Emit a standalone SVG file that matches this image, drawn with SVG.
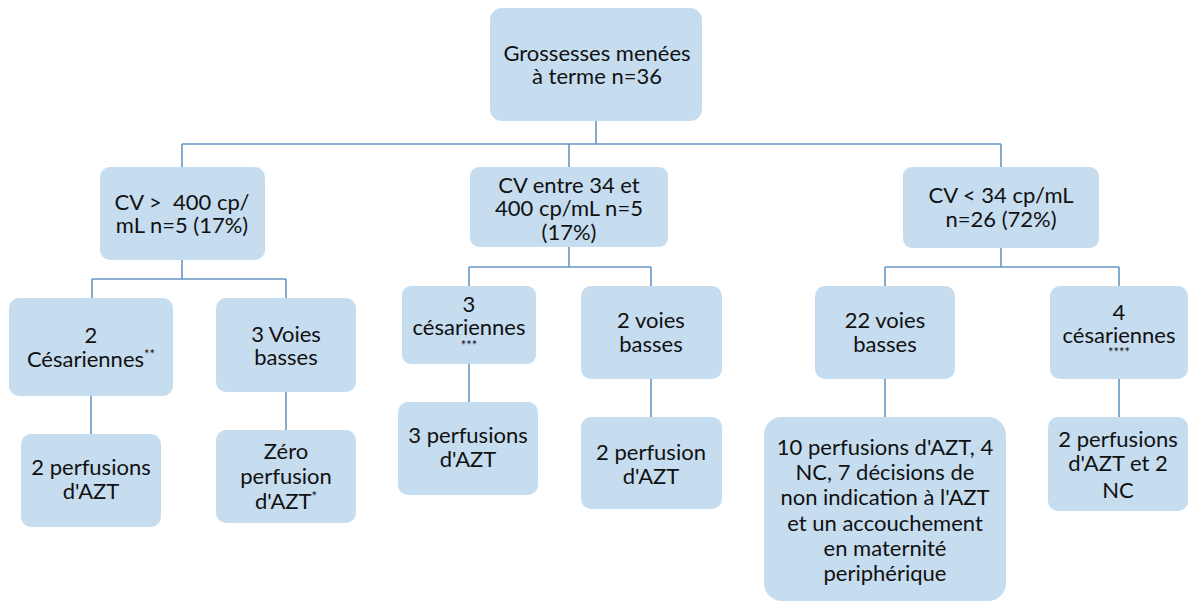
<svg xmlns="http://www.w3.org/2000/svg" width="1192" height="602" viewBox="0 0 1192 602">
<style>
.box{fill:#c6dcef;stroke:none}
.t{font-family:Lato,"Liberation Sans",sans-serif;font-size:22px;fill:#111;text-anchor:middle}
.s{font-size:13px}
.c{fill:none;stroke:#6796c4;stroke-width:1.6}
</style>
<rect width="1192" height="602" fill="#fff"/>
<g id="connectors">
<path class="c" d="M596,121V144M182,144H1001M182,144V167M569,144V167M1001,144V167"/>
<path class="c" d="M182,260V279M92,279H286M92,279V298M286,279V298M91,396V434M286,392V430"/>
<path class="c" d="M569,247V267M469,267H651M469,267V286M651,267V286M469,364V402M651,379V417"/>
<path class="c" d="M1001,248V267M885,267H1119M885,267V286M1119,267V286M885,379V417M1119,379V417"/>
</g>
<g id="root">
<rect class="box" x="490" y="8" width="212" height="113" rx="12"/>
<text class="t" x="597" y="60.5">Grossesses menées</text>
<text class="t" x="597" y="84">à terme n=36</text>
</g>
<g id="cv-high">
<rect class="box" x="100" y="167" width="165" height="93" rx="10"/>
<text class="t" x="182" y="210" style="white-space:pre">CV &gt;  400 cp/</text>
<text class="t" x="182" y="233">mL n=5 (17%)</text>
</g>
<g id="cv-mid">
<rect class="box" x="470" y="167" width="198" height="80" rx="9"/>
<text class="t" x="569" y="193">CV entre 34 et</text>
<text class="t" x="569" y="216">400 cp/mL n=5</text>
<text class="t" x="569" y="240">(17%)</text>
</g>
<g id="cv-low">
<rect class="box" x="903" y="167" width="196" height="81" rx="9"/>
<text class="t" x="1001" y="203">CV &lt; 34 cp/mL</text>
<text class="t" x="1001" y="227">n=26 (72%)</text>
</g>
<g id="a1">
<rect class="box" x="9" y="298" width="164" height="98" rx="10"/>
<text class="t" x="91" y="343">2</text>
<text class="t" x="91" y="367">Césariennes<tspan class="s" dy="-8">**</tspan></text>
</g>
<g id="a2">
<rect class="box" x="216" y="298" width="140" height="94" rx="10"/>
<text class="t" x="286" y="342">3 Voies</text>
<text class="t" x="286" y="365">basses</text>
</g>
<g id="a1a">
<rect class="box" x="21" y="434" width="140" height="93" rx="10"/>
<text class="t" x="91" y="475">2 perfusions</text>
<text class="t" x="91" y="499">d'AZT</text>
</g>
<g id="a2a">
<rect class="box" x="216" y="430" width="140" height="93" rx="10"/>
<text class="t" x="286" y="459">Zéro</text>
<text class="t" x="286" y="484">perfusion</text>
<text class="t" x="286" y="509">d'AZT<tspan class="s" dy="-8">*</tspan></text>
</g>
<g id="b1">
<rect class="box" x="402" y="286" width="134" height="78" rx="9"/>
<text class="t" x="469" y="312">3</text>
<text class="t" x="469" y="335">césariennes</text>
<text class="t s" x="469" y="350">***</text>
</g>
<g id="b2">
<rect class="box" x="581" y="286" width="141" height="93" rx="10"/>
<text class="t" x="651" y="328">2 voies</text>
<text class="t" x="651" y="352">basses</text>
</g>
<g id="b1a">
<rect class="box" x="398" y="402" width="140" height="93" rx="10"/>
<text class="t" x="468" y="443">3 perfusions</text>
<text class="t" x="468" y="467">d'AZT</text>
</g>
<g id="b2a">
<rect class="box" x="581" y="417" width="141" height="92" rx="10"/>
<text class="t" x="651" y="460">2 perfusion</text>
<text class="t" x="651" y="484">d'AZT</text>
</g>
<g id="c1">
<rect class="box" x="815" y="286" width="140" height="93" rx="10"/>
<text class="t" x="885" y="328">22 voies</text>
<text class="t" x="885" y="352">basses</text>
</g>
<g id="c2">
<rect class="box" x="1050" y="286" width="138" height="93" rx="10"/>
<text class="t" x="1119" y="320">4</text>
<text class="t" x="1119" y="343">césariennes</text>
<text class="t s" x="1119" y="357">****</text>
</g>
<g id="c1a">
<rect class="box" x="764" y="417" width="242" height="184" rx="18"/>
<text class="t" x="885" y="455">10 perfusions d'AZT, 4</text>
<text class="t" x="885" y="480">NC, 7 décisions de</text>
<text class="t" x="885" y="505">non indication à l'AZT</text>
<text class="t" x="885" y="531">et un accouchement</text>
<text class="t" x="885" y="556">en maternité</text>
<text class="t" x="885" y="581">periphérique</text>
</g>
<g id="c2a">
<rect class="box" x="1048" y="417" width="140" height="94" rx="10"/>
<text class="t" x="1118" y="447">2 perfusions</text>
<text class="t" x="1118" y="471">d'AZT et 2</text>
<text class="t" x="1118" y="498">NC</text>
</g>
</svg>
